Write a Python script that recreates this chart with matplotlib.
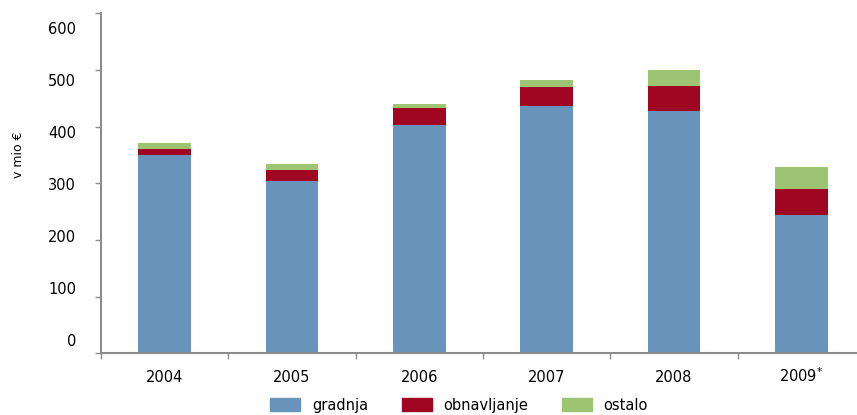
import matplotlib
matplotlib.use("Agg")
import matplotlib.pyplot as plt
import matplotlib.transforms as mtrans
from matplotlib.patches import Patch
import numpy as np

years = ["2004", "2005", "2006", "2007", "2008", "2009$^{*}$"]
gradnja = [350, 304, 403, 436, 428, 244]
obnavljanje = [10, 19, 30, 34, 44, 46]
ostalo = [11, 11, 7, 12, 28, 39]

c_blue = "#6894BC"
c_red = "#A00522"
c_green = "#9DC473"
grey = "#8C8C8C"

plt.rcParams['font.family'] = ['DejaVu Sans']
fig = plt.figure(figsize=(8.57, 4.15), dpi=100)
ax = fig.add_axes([101/857, 1-353.3/415, 764/857, (353.3-13.3)/415])

x = np.arange(len(years))
w = 0.416
g = np.array(gradnja); o = np.array(obnavljanje); s = np.array(ostalo)
ax.bar(x, g, w, color=c_blue, label="gradnja")
ax.bar(x, o, w, bottom=g, color=c_red, label="obnavljanje")
ax.bar(x, s, w, bottom=g+o, color=c_green, label="ostalo")

ax.set_xlim(-0.5, len(years)-0.5)
ax.set_ylim(0, 600)
ax.set_yticks(range(0, 601, 100))
ax.tick_params(axis='y', length=4, width=1, color=grey, labelsize=10.5, pad=14)
# reference places y labels evenly between y=340 px (0) and y=28 px (600)
for i, lab in enumerate(ax.get_yticklabels()):
    dy = 13.3 - 4.67 * i
    lab.set_transform(lab.get_transform() +
                      mtrans.ScaledTranslation(0, dy/100, fig.dpi_scale_trans))

ax.set_xticks(np.arange(-0.5, len(years)), labels=[""]*(len(years)+1))
ax.tick_params(axis='x', which='major', length=4, width=1, color=grey)
ax.set_xticks(x, labels=years, minor=True)
ax.tick_params(axis='x', which='minor', length=0, labelsize=10.5, pad=21)
for lab in ax.get_xticklabels(minor=True):
    lab.set_verticalalignment('baseline')

for sp in ['top', 'right']:
    ax.spines[sp].set_visible(False)
for sp in ['left', 'bottom']:
    ax.spines[sp].set_color(grey)
    ax.spines[sp].set_linewidth(1.5)

fig.text(18/857, 1-155/415, "v mio €", rotation=90, ha='center', va='center', fontsize=9)

handles = [Patch(color=c_blue), Patch(color=c_red), Patch(color=c_green)]
fig.legend(handles, ["gradnja", "obnavljanje", "ostalo"], ncol=3, loc='center',
           bbox_to_anchor=(459/857, 1-405/415), frameon=False, fontsize=10.5,
           handlelength=2.05, handleheight=0.9, handletextpad=0.8, columnspacing=2.3)

fig.savefig("out.png", dpi=100)
